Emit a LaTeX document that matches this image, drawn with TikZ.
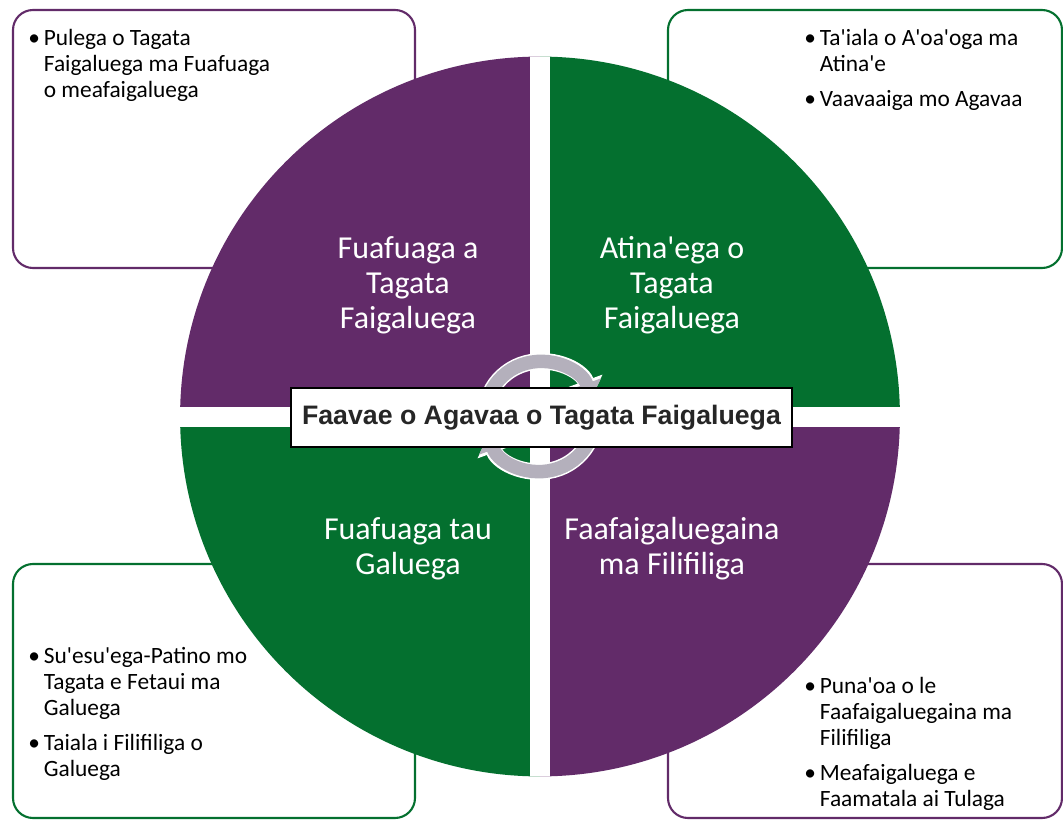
\documentclass[tikz,border=0pt]{standalone}
\usepackage{fontspec}
\setmainfont{Carlito}
\newfontfamily\arialfont{Liberation Sans}
\usetikzlibrary{positioning,arrows.meta}
\definecolor{quadpurple}{HTML}{622B69}
\definecolor{quadgreen}{HTML}{04702F}
\definecolor{ringgrey}{HTML}{B4B0BC}
\newcommand{\ap}{\textquotesingle}

\begin{document}
\begin{tikzpicture}[x=0.02cm,y=-0.02cm,
  cornerbox/.style={draw,line width=1.2pt,rounded corners=0.4cm},
  quadtext/.style={text=white,align=center,font=\fontsize{18.2}{19.9}\selectfont},
  listtext/.style={anchor=north west,inner sep=0pt,font=\fontsize{13.3}{14.8}\selectfont},
  ringedge/.style={white,line width=0.33cm,-{Triangle[width=0.7cm,length=0.36cm]}},
  ring/.style={ringgrey,line width=0.27cm,-{Triangle[width=0.6cm,length=0.3cm]}}]
\useasboundingbox (0,0) rectangle (1063,821);
% boxes in the corners, behind the circle
\draw[cornerbox,quadpurple] (13,10) rectangle (415,268);
\draw[cornerbox,quadgreen] (668,10) rectangle (1062,268);
\draw[cornerbox,quadgreen] (13,564) rectangle (415,818);
\draw[cornerbox,quadpurple] (668,564) rectangle (1062,818);
\node[listtext] (tl) at (28,27) {\begin{tabular}{@{}l@{\,}l@{}}
  \textbullet & Pulega o Tagata\\ & Faigaluega ma Fuafuaga\\ & o meafaigaluega\end{tabular}};
\node[listtext] (tr) at (804,27) {\begin{tabular}{@{}l@{\,}l@{}}
  \textbullet & Ta\ap iala o A\ap oa\ap oga ma\\ & Atina\ap e\\[5pt]
  \textbullet & Vaavaaiga mo Agavaa\end{tabular}};
\node[listtext] (bl) at (28,645) {\begin{tabular}{@{}l@{\,}l@{}}
  \textbullet & Su\ap esu\ap ega-Patino mo\\ & Tagata e Fetaui ma\\ & Galuega\\[5pt]
  \textbullet & Taiala i Filifiliga o\\ & Galuega\end{tabular}};
\node[listtext] (br) at (804,675) {\begin{tabular}{@{}l@{\,}l@{}}
  \textbullet & Puna\ap oa o le\\ & Faafaigaluegaina ma\\ & Filifiliga\\[5pt]
  \textbullet & Meafaigaluega e\\ & Faamatala ai Tulaga\end{tabular}};
% the circle in four quarters
\coordinate (c) at (540,416.5);
\begin{scope}
\clip (c) circle[radius=7.2cm];
\fill[quadpurple] (0,0) rectangle (c);
\fill[quadgreen] (c) rectangle (1063,0);
\fill[quadgreen] (0,821) rectangle (c);
\fill[quadpurple] (c) rectangle (1063,821);
\fill[white] (530,0) rectangle (550,821);
\fill[white] (0,406.5) rectangle (1063,426.5);
\end{scope}
\node[quadtext] (q1) at (408,285) {Fuafuaga a\\Tagata\\Faigaluega};
\node[quadtext] (q2) at (672,285) {Atina\ap ega o\\Tagata\\Faigaluega};
\node[quadtext] (q3) at (408,549) {Fuafuaga tau\\Galuega};
\node[quadtext] (q4) at (672,549) {Faafaigaluegaina\\ma Filifiliga};
% cycle arrows behind the title
\foreach \s in {ringedge,ring} {
  \draw[\s] ([shift={(200:1.1cm)}]c) arc[start angle=200,end angle=20,radius=1.1cm];
  \draw[\s] ([shift={(20:1.1cm)}]c) arc[start angle=20,end angle=-160,radius=1.1cm];
}
\node[draw,fill=white,line width=1pt,minimum width=10.02cm,minimum height=1.18cm,
  font=\arialfont\bfseries\fontsize{15.2}{18}\selectfont,text=black!85] (title) at (541.5,417.5)
  {Faavae o Agavaa o Tagata Faigaluega};
\end{tikzpicture}
\end{document}
